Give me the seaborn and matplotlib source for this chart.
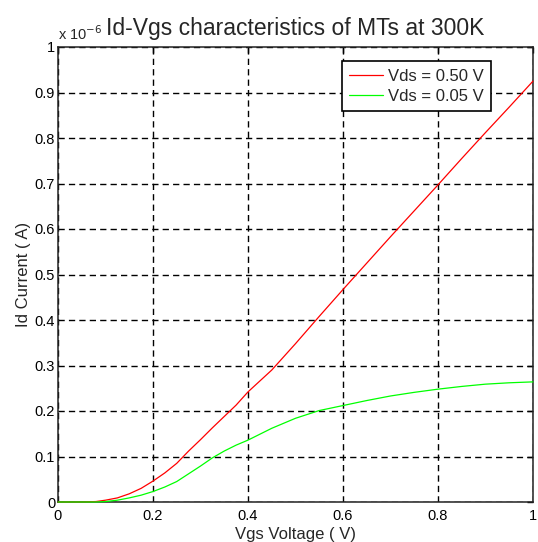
import matplotlib
matplotlib.use("Agg")
import matplotlib.pyplot as plt
import seaborn as sns
import pandas as pd

vgs = [0, 0.05, 0.08, 0.1, 0.125, 0.15, 0.175, 0.2, 0.225, 0.25, 0.275, 0.3,
       0.325, 0.35, 0.375, 0.4, 0.45, 0.5, 0.55, 0.6, 0.65, 0.7, 0.75, 0.8,
       0.85, 0.9, 0.95, 1.0]
id_vds050 = [0, 0, 0.001, 0.004, 0.009, 0.018, 0.030, 0.046, 0.064, 0.085,
             0.112, 0.137, 0.163, 0.188, 0.213, 0.242, 0.290, 0.348, 0.408,
             0.467, 0.525, 0.583, 0.640, 0.697, 0.755, 0.812, 0.868, 0.925]
id_vds005 = [0, 0, 0, 0.001, 0.004, 0.009, 0.015, 0.023, 0.033, 0.045,
             0.062, 0.079, 0.097, 0.112, 0.125, 0.136, 0.162, 0.184, 0.201,
             0.212, 0.223, 0.233, 0.241, 0.248, 0.254, 0.259, 0.262, 0.264]
series_labels = ["Vds = 0.50 V", "Vds = 0.05 V"]
x_ticks = [0, 0.2, 0.4, 0.6, 0.8, 1]
x_ticklabels = ["0", "0.2", "0.4", "0.6", "0.8", "1"]
y_ticks = [0, 0.1, 0.2, 0.3, 0.4, 0.5, 0.6, 0.7, 0.8, 0.9, 1]
y_ticklabels = ["0", "0.1", "0.2", "0.3", "0.4", "0.5", "0.6", "0.7", "0.8", "0.9", "1"]

df = pd.concat([
    pd.DataFrame({"Vgs": vgs, "Id": id_vds050, "series": series_labels[0]}),
    pd.DataFrame({"Vgs": vgs, "Id": id_vds005, "series": series_labels[1]}),
])

sns.set_theme(style="white")
plt.rcParams["font.family"] = ["Liberation Sans", "DejaVu Sans"]

fig = plt.figure(figsize=(5.38, 5.42), dpi=100)
ax = fig.add_axes([58/538, 1-502/542, 475/538, 455/542])

sns.lineplot(data=df, x="Vgs", y="Id", hue="series",
             palette={series_labels[0]: "#ff0000", series_labels[1]: "#00ff00"},
             linewidth=0.9, ax=ax, legend=True, sort=False)
for ln in ax.lines:
    ln.set_zorder(3)
    ln.set_clip_on(False)

ax.set_xlim(0, 1)
ax.set_ylim(0, 1)
ax.set_xticks(x_ticks)
ax.set_xticklabels(x_ticklabels)
ax.set_yticks(y_ticks)
ax.set_yticklabels(y_ticklabels)
ax.tick_params(direction="in", top=True, right=True, length=4, width=1,
               labelsize=10.5, colors="black")
ax.tick_params(axis="x", pad=5)
ax.tick_params(axis="y", pad=2)
ax.grid(True, color="black", linestyle=(0, (4.5, 3)), linewidth=1.0)
for s in ax.spines.values():
    s.set_color("#222222")
    s.set_linewidth(1.1)

ax.set_xlabel("Vgs Voltage ( V)", fontsize=12, labelpad=3)
ax.set_ylabel("Id Current ( A)", fontsize=12, labelpad=3)
ax.set_title("Id-Vgs characteristics of MTs at 300K", fontsize=16.5, pad=9, x=0.5)
ax.text(0.0, 1.008, r"x 10$^{-6}$", transform=ax.transAxes, fontsize=10.5,
        ha="left", va="bottom")

leg = ax.legend(loc="upper right", bbox_to_anchor=(0.9116, 0.969), fontsize=12,
                frameon=True, fancybox=False, edgecolor="black",
                facecolor="white", framealpha=1.0,
                borderaxespad=0, handlelength=2.0, handletextpad=0.3,
                borderpad=0.45, labelspacing=0.3)
leg.get_frame().set_linewidth(1.2)
leg.set_zorder(10)

fig.savefig("out.png", dpi=100)
